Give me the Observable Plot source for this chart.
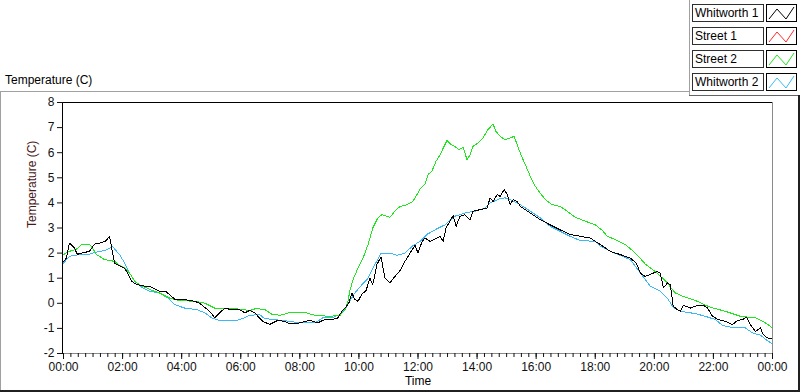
<!DOCTYPE html>
<html>
<head>
<meta charset="utf-8">
<script src="https://cdn.jsdelivr.net/npm/d3@7"></script>
<script src="https://cdn.jsdelivr.net/npm/@observablehq/plot@0.6"></script>
<style>
  body { margin: 0; background: #fff; font-family: "Liberation Sans", Arial, sans-serif; }
  #wrap { position: relative; width: 800px; height: 392px; overflow: hidden; background: #fff; }
  #wrap svg.plot { position: absolute; left: 0; top: 0; }
  .ln { position: absolute; }
  .title { position: absolute; left: 5px; top: 73px; font-size: 12px; color: #000; white-space: nowrap; }
  .legrow { position: absolute; left: 692px; height: 17px; }
  .legtxt { position: absolute; left: 0; top: 0; width: 70px; height: 16px; border: 1px solid #303030; background: #fff;
            font-size: 12px; line-height: 16px; padding-left: 2px; box-sizing: border-box; width: 72px; height: 18px; white-space: nowrap; }
  .legsw { position: absolute; left: 74px; top: 0; width: 31px; height: 18px; border: 1px solid #000; box-sizing: border-box; background: #fff; }
</style>
</head>
<body>
<div id="wrap"></div>
<script>
// ---- Data (hours since midnight, temperature in C) ----
const seriesNames = ["Whitworth 1", "Street 1", "Street 2", "Whitworth 2"];
const seriesColors = ["#000000", "#ff2a2a", "#1fe61f", "#3cb9f5"];

const w1Hours = [0,0.10,0.20,0.37,0.47,0.61,0.88,1.05,1.22,1.42,1.56,1.63,1.73,1.90,2.07,2.17,2.31,2.47,2.75,2.92,3.25,3.46,3.76,4.10,4.44,4.61,4.95,5.12,5.29,5.46,5.63,5.97,6.14,6.31,6.47,6.75,6.98,7.25,7.49,7.66,8.00,8.34,8.61,8.85,9.12,9.29,9.42,9.53,9.66,9.76,9.86,9.97,10.10,10.24,10.37,10.47,10.61,10.75,10.88,11.05,11.22,11.39,11.56,11.73,11.90,12.00,12.14,12.24,12.41,12.75,12.85,12.95,13.08,13.19,13.29,13.42,13.59,13.76,13.86,14.10,14.34,14.44,14.54,14.68,14.78,14.92,15.02,15.12,15.22,15.36,15.46,15.80,16.14,16.47,16.81,17.15,17.49,17.83,18.17,18.51,18.85,19.19,19.39,19.53,19.69,19.86,20.10,20.20,20.31,20.44,20.54,20.64,20.78,20.88,20.98,21.22,21.46,21.66,21.80,21.97,22.17,22.41,22.64,22.81,22.98,23.12,23.25,23.42,23.59,23.69,23.83,24.00];
const w1Temps = [1.65,1.8,2.4,2.2,1.95,2.0,2.07,2.36,2.4,2.47,2.67,2.2,1.6,1.5,1.4,1.2,0.88,0.75,0.68,0.68,0.48,0.48,0.17,0.15,0.08,0.0,-0.32,-0.58,-0.38,-0.19,-0.24,-0.26,-0.38,-0.28,-0.38,-0.72,-0.84,-0.68,-0.72,-0.82,-0.78,-0.68,-0.78,-0.64,-0.64,-0.58,-0.32,-0.19,0.01,0.41,0.16,0.08,0.37,0.5,1.0,0.75,1.55,1.85,1.0,0.81,1.07,1.3,1.67,2.0,2.3,2.0,2.47,2.6,2.47,2.67,2.47,3.0,3.27,3.5,3.07,3.47,3.53,3.33,3.67,3.73,3.8,4.2,4.06,4.33,4.26,4.53,4.33,3.93,4.13,4.06,3.86,3.6,3.33,3.13,2.93,2.74,2.67,2.6,2.34,2.07,1.94,1.8,1.6,1.2,1.07,1.15,1.27,1.2,0.61,0.81,0.74,-0.12,-0.25,-0.32,-0.08,-0.19,-0.08,-0.08,-0.19,-0.52,-0.65,-0.72,-0.85,-0.69,-0.65,-0.56,-0.85,-1.12,-0.98,-1.25,-1.38,-1.4];

const w2Hours = [0,0.20,0.54,0.88,1.12,1.39,1.56,1.66,1.80,1.90,2.07,2.24,2.41,2.68,2.92,3.25,3.53,3.76,4.10,4.51,4.78,5.02,5.29,5.80,5.97,6.31,6.64,6.81,7.15,7.66,8.00,8.51,8.78,9.12,9.36,9.56,9.69,9.86,10.10,10.31,10.54,10.75,11.05,11.29,11.56,11.80,12.07,12.31,12.58,12.92,13.25,13.59,13.93,14.27,14.44,14.78,14.95,15.19,15.46,15.80,16.14,16.47,16.81,17.15,17.49,18.00,18.17,18.51,18.85,19.19,19.53,19.86,20.20,20.44,20.64,20.88,21.39,21.73,22.07,22.31,22.68,23.08,23.32,23.59,23.83,24.00];
const w2Temps = [1.6,1.87,1.94,1.96,2.04,2.1,2.2,2.27,2.07,1.94,1.6,1.2,0.88,0.61,0.48,0.41,0.21,-0.05,-0.19,-0.25,-0.38,-0.58,-0.69,-0.69,-0.65,-0.48,-0.45,-0.61,-0.65,-0.72,-0.78,-0.78,-0.58,-0.56,-0.45,-0.19,0.08,0.41,0.74,1.0,1.54,2.0,2.0,1.91,2.0,2.27,2.47,2.75,2.93,3.13,3.47,3.6,3.67,3.8,4.0,4.17,4.2,4.09,3.93,3.67,3.4,3.07,2.87,2.67,2.5,2.47,2.27,2.07,1.91,1.74,1.2,0.68,0.48,0.21,-0.16,-0.32,-0.41,-0.52,-0.65,-0.88,-0.98,-0.98,-1.18,-1.27,-1.49,-1.62];

const s2Hours = [0,0.20,0.44,0.64,0.88,0.98,1.12,1.39,1.73,1.90,2.07,2.24,2.41,2.58,2.92,3.25,3.59,3.93,4.44,4.78,5.12,5.46,5.97,6.31,6.51,6.81,7.05,7.32,7.66,8.17,8.51,9.02,9.36,9.53,9.63,9.69,9.80,9.97,10.14,10.31,10.47,10.64,10.78,11.05,11.22,11.39,11.63,11.83,12.07,12.24,12.34,12.47,12.61,12.75,12.88,12.98,13.12,13.25,13.39,13.53,13.66,13.76,13.86,14.03,14.20,14.37,14.54,14.64,14.78,14.95,15.12,15.25,15.36,15.46,15.63,15.80,15.97,16.14,16.31,16.54,16.81,17.05,17.32,17.66,18.00,18.24,18.41,18.68,19.02,19.36,19.69,20.03,20.37,20.71,21.05,21.39,21.90,22.41,22.92,23.42,23.76,24.00];
const s2Temps = [1.94,2.07,2.16,2.36,2.36,2.2,1.94,1.74,1.67,1.51,1.41,1.2,0.88,0.74,0.55,0.41,0.21,0.11,0.08,0.01,-0.19,-0.21,-0.23,-0.29,-0.21,-0.25,-0.43,-0.48,-0.37,-0.36,-0.48,-0.52,-0.48,-0.25,0.08,0.48,0.94,1.41,1.8,2.34,3.0,3.4,3.53,3.43,3.67,3.86,3.93,4.06,4.55,4.75,5.13,5.26,5.66,5.92,6.25,6.48,6.32,6.25,6.12,6.21,5.72,5.92,6.25,6.39,6.59,6.92,7.14,6.85,6.65,6.52,6.59,6.65,6.32,5.99,5.53,5.06,4.66,4.39,4.13,3.93,3.86,3.67,3.43,3.27,3.13,2.9,2.67,2.54,2.34,2.0,1.57,1.27,0.9,0.41,0.24,0.11,-0.16,-0.32,-0.52,-0.58,-0.78,-0.98];

// Street 1 is fully hidden beneath Street 2 in the picture
const s1Hours = s2Hours;
const s1Temps = s2Temps;

const yTicks = [-2,-1,0,1,2,3,4,5,6,7,8];
const xMajorTicks = [0,2,4,6,8,10,12,14,16,18,20,22,24];

// ---- Build tables ----
function table(hours, temps) { return hours.map((h, i) => ({hour: h, temp: temps[i]})); }
const w1 = table(w1Hours, w1Temps);
const s1 = table(s1Hours, s1Temps);
const s2 = table(s2Hours, s2Temps);
const w2 = table(w2Hours, w2Temps);
const xMinorTicks = d3.range(0, 24.001, 0.25);
const fmt = d => String(Math.round(d) % 24).padStart(2, "0") + ":00";

const lineOpts = (color) => ({x: "hour", y: "temp", stroke: color, strokeWidth: 1, shapeRendering: "crispEdges"});

const chart = Plot.plot({
  width: 800,
  height: 392,
  marginLeft: 63,
  marginRight: 28,
  marginTop: 102,
  marginBottom: 39,
  style: {fontFamily: "'Liberation Sans', Arial, sans-serif", fontSize: "12px", color: "#111", background: "transparent"},
  x: {domain: [0, 24], axis: null},
  y: {domain: [-2, 8], axis: null},
  marks: [
    Plot.line(w2, lineOpts(seriesColors[3])),
    Plot.line(s1, lineOpts(seriesColors[1])),
    Plot.line(s2, lineOpts(seriesColors[2])),
    Plot.line(w1, lineOpts(seriesColors[0])),
    Plot.ruleX([24], {stroke: "#8a8a8a"}),
    Plot.ruleY([-2], {stroke: "#8a8a8a"}),
    Plot.ruleX([0], {stroke: "#000", dx: -1}),
    Plot.ruleY([8], {stroke: "#000"}),
    Plot.axisY({ticks: yTicks, tickSize: 6, tickPadding: 3, label: null, tickFormat: d => String(d)}),
    Plot.axisX({ticks: xMinorTicks, tickSize: 4, tickFormat: () => "", label: null}),
    Plot.axisX({ticks: xMajorTicks, tickSize: 6, tickPadding: 3, tickFormat: fmt, label: null}),
    Plot.text(["Time"], {frameAnchor: "bottom", dy: 31, fill: "#000"}),
    Plot.text(["Temperature (C)"], {frameAnchor: "left", rotate: -90, dx: -31, fill: "#4a1818"})
  ]
});
chart.classList.add("plot");
const wrap = document.getElementById("wrap");
wrap.appendChild(chart);

// ---- Panel chrome ----
function line(x, y, w, h, c) {
  const d = document.createElement("div");
  d.className = "ln";
  Object.assign(d.style, {left: x + "px", top: y + "px", width: w + "px", height: h + "px", background: c});
  wrap.appendChild(d);
}
line(0, 91, 690, 1, "#a0a0a0");
line(689, 0, 1, 96, "#a0a0a0");
line(689, 95, 111, 1, "#646464");
line(0, 91, 1, 300, "#a0a0a0");
line(0, 390, 800, 2, "#202020");
line(798, 95, 2, 297, "#202020");

const title = document.createElement("div");
title.className = "title";
title.textContent = "Temperature (C)";
wrap.appendChild(title);

// ---- Legend ----
const rowTops = [4, 27, 50, 73];
seriesNames.forEach((name, i) => {
  const row = document.createElement("div");
  row.className = "legrow";
  row.style.top = rowTops[i] + "px";
  row.innerHTML = `<div class="legtxt">${name}</div>
    <div class="legsw"><svg width="29" height="16" style="position:absolute;left:0;top:0">
      <polyline points="2,14 10,4 19,14 27,2" fill="none" stroke="${seriesColors[i]}" stroke-width="1"/></svg></div>`;
  wrap.appendChild(row);
});
</script>
</body>
</html>
